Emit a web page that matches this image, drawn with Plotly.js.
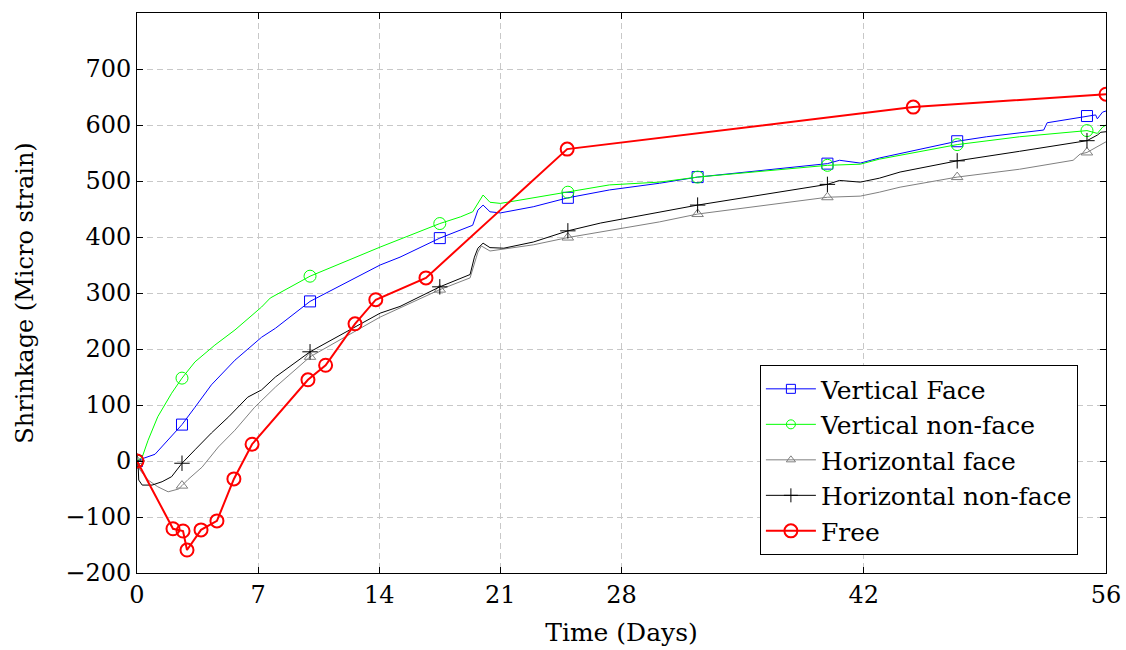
<!DOCTYPE html>
<html>
<head>
<meta charset="utf-8">
<script src="https://cdn.plot.ly/plotly-3.0.1.min.js"></script>
<style>html,body{margin:0;padding:0;background:#fff;}#chart{width:1126px;height:650px;}</style>
</head>
<body>
<div id="chart"></div>
<script>
// ---- data (days, micro strain) ----
const vfDays = [0, 0.3, 1.04, 1.8, 2.6, 3.35, 4.3, 5.66, 7.2, 8.0, 10.0, 14.05, 15.2, 17.5, 18.7, 19.4, 19.7, 20.0, 20.4, 21.0, 22.9, 24.9, 27.3, 30.2, 32.4, 39.9, 40.6, 41.8, 42.9, 44.1, 44.7, 47.4, 49.1, 51.0, 52.4, 52.6, 54.9, 55.4, 55.5, 55.8, 56];
const vfVals = [0, 4, 12, 37, 65, 96, 136, 180, 221, 237, 285, 350, 364, 398, 412, 421, 448, 457, 445, 443, 454, 470, 484, 496, 507, 531, 537, 532, 541, 549, 552, 571, 579, 586, 591, 604, 616, 618, 611, 623, 625];

const vnDays = [0, 0.3, 0.64, 1.2, 2.0, 2.6, 3.35, 4.5, 5.66, 7.2, 7.7, 10.0, 14.05, 17.5, 18.7, 19.4, 20.0, 20.4, 21.0, 24.9, 27.3, 30.2, 32.4, 39.9, 41.8, 42.9, 44.1, 47.4, 51.0, 54.9, 55.5, 55.8, 56];
const vnVals = [0, 7, 37, 79, 121, 148, 177, 207, 234, 275, 291, 330, 382, 424, 436, 445, 475, 462, 460, 480, 493, 498, 507, 528, 530, 539, 546, 565, 579, 590, 585, 596, 600];

const hfDays = [0, 0.17, 0.64, 1.2, 1.8, 2.4, 2.6, 2.95, 3.76, 4.7, 5.66, 6.8, 8.0, 10.0, 14.05, 17.5, 19.25, 19.7, 19.9, 20.4, 22.9, 24.9, 30.2, 32.4, 39.9, 41.8, 42.9, 44.1, 47.4, 51.0, 54.1, 54.5, 54.9, 55.5, 56];
const hfVals = [0, -16, -34, -46, -55, -50, -44, -33, -11, 25, 55, 96, 132, 186, 257, 306, 327, 373, 384, 375, 386, 399, 427, 441, 471, 473, 480, 489, 507, 521, 537, 548, 551, 561, 570];

const hnDays = [0, 0.06, 0.1, 0.3, 0.87, 1.45, 2.0, 2.6, 3.35, 4.3, 5.3, 6.4, 7.2, 8.0, 10.0, 12.5, 14.05, 15.2, 17.5, 19.25, 19.5, 19.7, 20.0, 20.4, 21.2, 22.9, 24.9, 26.8, 30.2, 32.4, 39.9, 40.6, 41.8, 42.9, 44.1, 47.4, 51.0, 54.5, 54.9, 55.5, 55.7, 56];
const hnVals = [0, -4, -34, -43, -43, -37, -28, -4, 20, 50, 79, 114, 127, 150, 195, 237, 264, 276, 311, 333, 364, 380, 389, 381, 380, 391, 411, 425, 445, 457, 494, 501, 498, 505, 516, 536, 553, 570, 572, 582, 587, 588];

const freeDays = [0, 2.08, 2.66, 2.89, 3.7, 4.62, 5.6, 6.65, 9.88, 10.9, 12.6, 13.8, 16.7, 24.86, 44.86, 56];
const freeVals = [0, -121, -125, -159, -123, -107, -32, 30, 145, 171, 245, 288, 327, 557, 632, 655];

const markerDays = [0, 2.6, 10.0, 17.5, 24.9, 32.4, 39.9, 47.4, 54.9];
const xTicks = [0, 7, 14, 21, 28, 42, 56];
const yTicks = [-200, -100, 0, 100, 200, 300, 400, 500, 600, 700];

const FONT = "DejaVu Serif, Liberation Serif, serif";

const series = [
  {name: "Vertical Face", d: vfDays, v: vfVals, color: "#0000ff", sym: "square-open", size: 11, lsize: 9},
  {name: "Vertical non-face", d: vnDays, v: vnVals, color: "#00ff00", sym: "circle-open", size: 12, lsize: 9},
  {name: "Horizontal face", d: hfDays, v: hfVals, color: "#808080", sym: "triangle-up-open", size: 10, lsize: 8},
  {name: "Horizontal non-face", d: hnDays, v: hnVals, color: "#000000", sym: "cross-thin-open", size: 11, lsize: 10}
];

const traces = [];
series.forEach((s, i) => {
  const g = "g" + i;
  traces.push({x: s.d, y: s.v, type: "scatter", mode: "lines", line: {color: s.color, width: 1},
    showlegend: false, legendgroup: g, hoverinfo: "skip"});
  const mx = [], my = [];
  s.d.forEach((d, k) => { if (markerDays.includes(d)) { mx.push(d); my.push(s.v[k]); } });
  traces.push({x: mx, y: my, type: "scatter", mode: "markers",
    marker: {symbol: s.sym, size: s.size, color: s.color, line: {color: s.color, width: 1}},
    showlegend: false, legendgroup: g, hoverinfo: "skip"});
  traces.push({x: [null], y: [null], type: "scatter", mode: "lines+markers", name: s.name,
    line: {color: s.color, width: 1},
    marker: {symbol: s.sym, size: s.lsize, color: s.color, line: {color: s.color, width: 1}},
    legendgroup: g});
});
traces.push({x: freeDays, y: freeVals, type: "scatter", mode: "lines+markers", name: "Free",
  line: {color: "#ff0000", width: 2},
  marker: {symbol: "circle-open", size: 13, color: "#ff0000", line: {color: "#ff0000", width: 2}},
  legendgroup: "g4"});

const axisCommon = {
  showline: true, linecolor: "#000", linewidth: 1, mirror: "allticks",
  ticks: "inside", ticklen: 6, tickcolor: "#000", tickwidth: 1,
  showgrid: true, gridcolor: "#c8c8c8", gridwidth: 1, griddash: "6px,4px",
  zeroline: false, tickfont: {family: FONT, size: 24, color: "#000"}
};

const layout = {
  width: 1126, height: 650,
  margin: {l: 137, r: 20, t: 13, b: 77},
  paper_bgcolor: "#fff", plot_bgcolor: "#fff",
  font: {family: FONT, color: "#000"},
  xaxis: Object.assign({}, axisCommon, {
    range: [0, 56], tickmode: "array", tickvals: xTicks, ticktext: xTicks.map(String),
    title: {text: "Time (Days)", font: {family: FONT, size: 25}, standoff: 15}
  }),
  yaxis: Object.assign({}, axisCommon, {
    range: [-200, 800], tickmode: "array", tickvals: yTicks,
    title: {text: "Shrinkage (Micro strain)", font: {family: FONT, size: 24}, standoff: 24}
  }),
  legend: {
    x: 0.971, xanchor: "right", y: 0.032, yanchor: "bottom",
    bgcolor: "#fff", bordercolor: "#000", borderwidth: 1,
    font: {family: FONT, size: 25, color: "#000"},
    traceorder: "grouped", tracegroupgap: 0, itemwidth: 50
  },
  showlegend: true
};

Plotly.newPlot("chart", traces, layout, {displayModeBar: false, staticPlot: true});
</script>
</body>
</html>
